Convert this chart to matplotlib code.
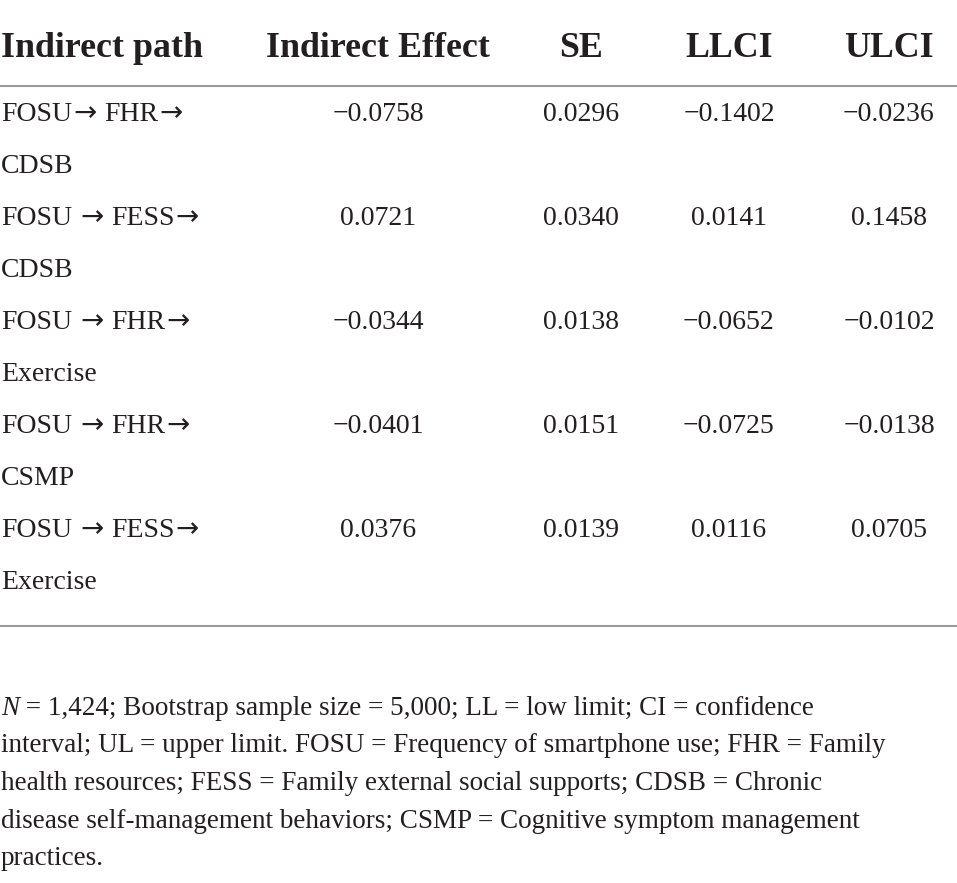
import matplotlib
matplotlib.use("Agg")
import re
import matplotlib.pyplot as plt
from matplotlib.lines import Line2D

W, H = 957, 883
headers = ["Indirect path", "Indirect Effect", "SE", "LLCI", "ULCI"]
paths = [("FOSU\u2192 FHR\u2192", "CDSB"),
         ("FOSU \u2192 FESS\u2192", "CDSB"),
         ("FOSU \u2192 FHR\u2192", "Exercise"),
         ("FOSU \u2192 FHR\u2192", "CSMP"),
         ("FOSU \u2192 FESS\u2192", "Exercise")]
indirect_effect = ["\u22120.0758", "0.0721", "\u22120.0344", "\u22120.0401", "0.0376"]
se = ["0.0296", "0.0340", "0.0138", "0.0151", "0.0139"]
llci = ["\u22120.1402", "0.0141", "\u22120.0652", "\u22120.0725", "0.0116"]
ulci = ["\u22120.0236", "0.1458", "\u22120.0102", "\u22120.0138", "0.0705"]
footnote_lines = [
    " = 1,424; Bootstrap sample size = 5,000; LL = low limit; CI = confidence",
    "interval; UL = upper limit. FOSU = Frequency of smartphone use; FHR = Family",
    "health resources; FESS = Family external social supports; CDSB = Chronic",
    "disease self-management behaviors; CSMP = Cognitive symptom management",
    "practices.",
]

SERIF = ["Liberation Serif", "DejaVu Serif"]
ARROWF = ["DejaVu Sans"]
COL = "#231f20"
LINE = "#9a9a9a"

fig = plt.figure(figsize=(W / 100, H / 100), dpi=100)
fig.patch.set_facecolor("white")
fig.canvas.draw()
R = fig.canvas.get_renderer()


def T(x, y, s, **kw):
    kw.setdefault("family", SERIF)
    kw.setdefault("color", COL)
    kw.setdefault("va", "baseline")
    return fig.text(x / W, 1 - y / H, s, **kw)


def T_pieces(x, y, s, fontsize):
    # words in the serif face, arrows in a face with a full-size arrow
    em = fontsize * 100 / 72
    for tok in re.findall(r"\u2192| +|[^\u2192 ]+", s):
        if tok.startswith(" "):
            x += 0.25 * em * len(tok)
            continue
        if tok == "\u2192":
            t = T(x + 1, y, tok, fontsize=fontsize, family=ARROWF, ha="left")
            x += t.get_window_extent(renderer=R).width + 2
        else:
            t = T(x, y, tok, fontsize=fontsize, ha="left")
            x += t.get_window_extent(renderer=R).width


def hline(y, x0=0, x1=W):
    fig.add_artist(Line2D([x0 / W, x1 / W], [1 - y / H, 1 - y / H],
                          transform=fig.transFigure, color=LINE, lw=1.5))


# header
col_x = [1, 378, 581, 729, 889]
HFS = 25.8
T(col_x[0], 57, headers[0], fontsize=HFS, fontweight="bold", ha="left")
for cx, h in zip(col_x[1:], headers[1:]):
    T(cx, 57, h, fontsize=HFS, fontweight="bold", ha="center")
hline(86)

BFS = 20
for i in range(len(paths)):
    yb = 121 + 104 * i
    T_pieces(col_x[0], yb, paths[i][0], BFS)
    T(col_x[0], yb + 52, paths[i][1], fontsize=BFS, ha="left")
    for cx, vals in zip(col_x[1:], [indirect_effect, se, llci, ulci]):
        T(cx, yb, vals[i], fontsize=BFS, ha="center")
hline(626)

# footnote
FFS = 19.5
n = T(1, 715, "N", fontsize=FFS, style="italic", ha="left")
bb = n.get_window_extent(renderer=R)
T(1 + bb.width, 715, footnote_lines[0], fontsize=FFS, ha="left")
for k, line in enumerate(footnote_lines[1:], start=1):
    T(1, 715 + 37.5 * k, line, fontsize=FFS, ha="left")

fig.savefig("out.png", dpi=100, facecolor="white")
